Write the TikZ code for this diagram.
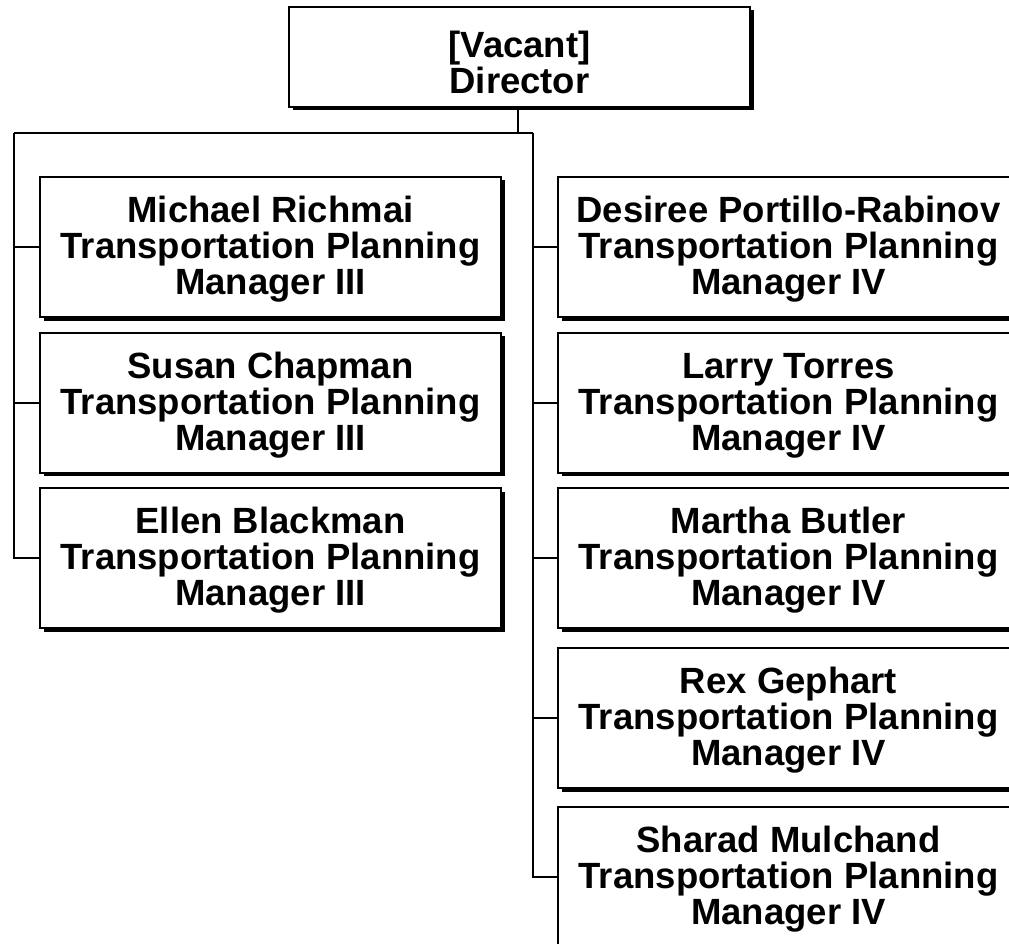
\documentclass[tikz,border=0pt]{standalone}
\usepackage{fontspec}
\setmainfont{Liberation Sans}
\usetikzlibrary{shadows}
\newcommand{\topstrut}[1]{\rule{0pt}{#1}}
\begin{document}
\begin{tikzpicture}[x=1pt,y=1pt,
  orgbox/.style={draw=black, line width=2pt, fill=white, align=center,
    inner sep=0pt, minimum width=461pt, minimum height=140pt,
    font=\bfseries\fontsize{36.5}{36}\selectfont,
    drop shadow={shadow xshift=3.5pt, shadow yshift=-3.5pt, fill=black, opacity=1}},
  link/.style={draw=black, line width=2pt}]
\clip (0,0) rectangle (1009,-944);
\fill[white] (0,0) rectangle (1009,-944);

\node[orgbox, minimum height=100pt] (dir) at (519.5,-57) {\topstrut{38pt}[Vacant]\\Director};

\node[orgbox] (mr) at (270.5,-247) {\topstrut{31.7pt}Michael Richmai\\Transportation Planning\\Manager III};
\node[orgbox] (sc) at (270.5,-402.5) {\topstrut{31.7pt}Susan Chapman\\Transportation Planning\\Manager III};
\node[orgbox] (eb) at (270.5,-558) {\topstrut{31.7pt}Ellen Blackman\\Transportation Planning\\Manager III};

\node[orgbox] (dp) at (788.5,-247) {\topstrut{31.7pt}Desiree Portillo-Rabinov\\Transportation Planning\\Manager IV};
\node[orgbox] (lt) at (788.5,-402.5) {\topstrut{31.7pt}Larry Torres\\Transportation Planning\\Manager IV};
\node[orgbox] (mb) at (788.5,-558) {\topstrut{31.7pt}Martha Butler\\Transportation Planning\\Manager IV};
\node[orgbox] (rg) at (788.5,-718) {\topstrut{31.7pt}Rex Gephart\\Transportation Planning\\Manager IV};
\node[orgbox] (sm) at (788.5,-877) {\topstrut{31.7pt}Sharad Mulchand\\Transportation Planning\\Manager IV};

\coordinate (j) at (518,-133);
\coordinate (L) at (14,-133);
\coordinate (R) at (533,-133);

\draw[link] (dir.south -| j) -- (j);
\draw[link] (L) -- (R);
\draw[link] (L) |- (mr.west);
\draw[link] (L) |- (sc.west);
\draw[link] (L) |- (eb.west);
\draw[link] (R) |- (dp.west);
\draw[link] (R) |- (lt.west);
\draw[link] (R) |- (mb.west);
\draw[link] (R) |- (rg.west);
\draw[link] (R) |- (sm.west);
\end{tikzpicture}
\end{document}
